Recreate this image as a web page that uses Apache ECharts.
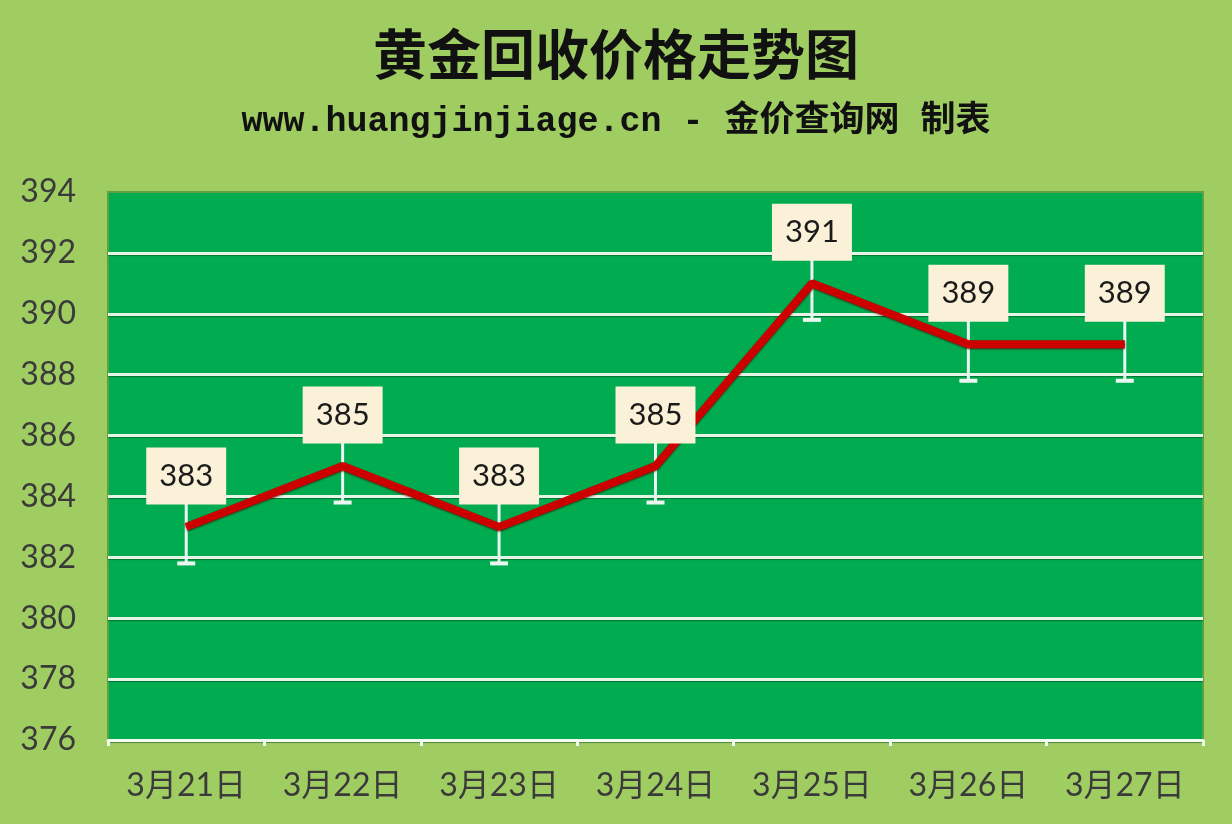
<!DOCTYPE html>
<html>
<head>
<meta charset="utf-8">
<title>黄金回收价格走势图</title>
<script src="https://cdn.jsdelivr.net/npm/echarts@6/dist/echarts.min.js"></script>
<style>
  html, body { margin: 0; padding: 0; background: #a0cd62; }
  #chart { width: 1232px; height: 824px; }
</style>
</head>
<body>
<div id="chart"></div>
<script>
// 日期 / 价格
var dates = ['3月21日', '3月22日', '3月23日', '3月24日', '3月25日', '3月26日', '3月27日'];
var prices = [383, 385, 383, 385, 391, 389, 389];
var errAmount = [1.2, 1.2, 1.2, 1.2, 1.2, 1.2, 1.2];
var yTicks = { min: 376, max: 394, interval: 2 };

var chart = echarts.init(document.getElementById('chart'));

var option = {
    backgroundColor: '#a0cd62',
    title: [
        {
            text: '黄金回收价格走势图',
            left: 'center',
            top: 22,
            textStyle: { fontFamily: 'Noto Sans CJK SC', fontSize: 54, fontWeight: 'bold', color: '#111' }
        },
        {
            text: 'www.huangjinjiage.cn - 金价查询网 制表',
            left: 'center',
            top: 100,
            textStyle: { fontFamily: 'Liberation Mono, Noto Sans CJK SC', fontSize: 35, fontWeight: 'bold', color: '#111' }
        }
    ],
    grid: {
        left: 108, right: 29, top: 192, bottom: 84,
        show: true,
        backgroundColor: '#00ac4f',
        borderColor: '#5fa043',
        borderWidth: 2
    },
    xAxis: {
        type: 'category',
        data: dates,
        boundaryGap: true,
        axisLine: { lineStyle: { color: '#f2faf0', width: 3 } },
        axisTick: { show: true, length: 6, lineStyle: { color: '#f2faf0', width: 3 } },
        axisLabel: { color: '#3a3a3a', fontSize: 32, margin: 30, fontFamily: 'Lato, Noto Sans CJK SC' }
    },
    yAxis: {
        type: 'value',
        min: yTicks.min,
        max: yTicks.max,
        interval: yTicks.interval,
        axisLine: { show: false },
        axisTick: { show: false },
        axisLabel: { color: '#3a3a3a', fontSize: 32, margin: 32, fontFamily: 'Lato' },
        splitLine: {
            showMaxLine: false,
            lineStyle: {
                color: '#e6f6e6', width: 3,
                shadowColor: 'rgba(0,60,20,0.5)', shadowBlur: 1, shadowOffsetY: 1
            }
        }
    },
    series: [
        {
            type: 'custom',
            z: 1,
            data: prices.map(function (v, i) { return [i, v, errAmount[i]]; }),
            renderItem: function (params, api) {
                var x = api.value(0);
                var top = api.coord([x, api.value(1) + api.value(2)]);
                var bot = api.coord([x, api.value(1) - api.value(2)]);
                var cap = 9;
                return {
                    type: 'group',
                    children: [
                        { type: 'line', shape: { x1: top[0], y1: top[1], x2: bot[0], y2: bot[1] }, style: { stroke: '#eaf7f0', lineWidth: 3 } },
                        { type: 'line', shape: { x1: bot[0] - cap, y1: bot[1], x2: bot[0] + cap, y2: bot[1] }, style: { stroke: '#eaf7f0', lineWidth: 4 } }
                    ]
                };
            }
        },
        {
            type: 'line',
            z: 3,
            data: prices,
            symbol: 'circle',
            symbolSize: 1,
            itemStyle: { color: '#cc0000' },
            lineStyle: {
                color: '#cc0000', width: 8,
                shadowColor: 'rgba(70,0,0,0.7)', shadowBlur: 2, shadowOffsetY: 1
            },
            label: {
                show: true,
                position: 'top',
                distance: 22,
                fontFamily: 'Lato',
                fontSize: 31,
                color: '#1a1a1a',
                backgroundColor: '#fbf1d8',
                lineHeight: 37,
                padding: [10, 13, 10, 13]
            }
        }
    ]
};

chart.setOption(option);
window.addEventListener('resize', function () { chart.resize(); });
</script>
</body>
</html>
